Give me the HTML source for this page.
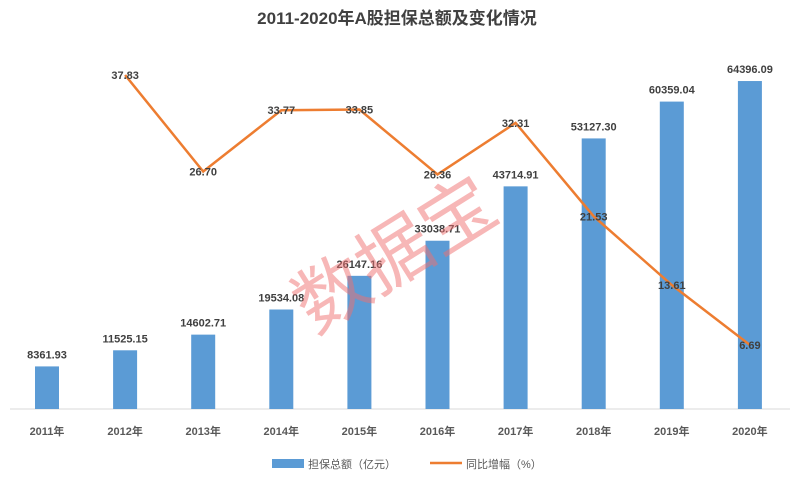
<!DOCTYPE html>
<html><head><meta charset="utf-8"><style>
body{margin:0;background:#fff;}
svg{display:block;font-family:"Liberation Sans","Noto Sans CJK SC",sans-serif;}
</style></head><body>
<svg id="chart" width="795" height="486">
<text x="397" y="24" text-anchor="middle" font-size="17" font-weight="bold" fill="#404040">2011-2020年A股担保总额及变化情况</text>
<line x1="10" y1="409" x2="790" y2="409" stroke="#d9d9d9"/>
<g id="bars"></g><g id="line"></g><g id="xlabels"></g>
<text x="395" y="280" font-size="74" fill="#f07070" fill-opacity="0.5" transform="rotate(-32 395 255)" text-anchor="middle">数据宝</text>
<g>
<rect x="272" y="459" width="32" height="9" fill="#5b9bd5"/>
<text x="308" y="468" font-size="11" fill="#595959">担保总额（亿元）</text>
<line x1="430" y1="463" x2="462" y2="463" stroke="#ed7d31" stroke-width="2.5"/>
<text x="466" y="468" font-size="11" fill="#595959">同比增幅（%）</text>
</g>
</svg>
<script>
const categories=["2011年","2012年","2013年","2014年","2015年","2016年","2017年","2018年","2019年","2020年"];
const totals=[8361.93,11525.15,14602.71,19534.08,26147.16,33038.71,43714.91,53127.30,60359.04,64396.09];
const growth=[null,37.83,26.70,33.77,33.85,26.36,32.31,21.53,13.61,6.69];
const ns="http://www.w3.org/2000/svg";
function x(i){return 47+i*78.1;}
function yBar(v){return 409-v*0.005093;}
function yLine(v){return 403-v*8.67;}
function mk(t,a,p,txt){const e=document.createElementNS(ns,t);for(const k in a)e.setAttribute(k,a[k]);if(txt!=null)e.textContent=txt;p.appendChild(e);return e;}
const gb=document.getElementById('bars'),gl=document.getElementById('line'),gx=document.getElementById('xlabels');
totals.forEach((v,i)=>{
 const r=mk('rect',{x:x(i)-12,y:yBar(v),width:24,height:409-yBar(v),fill:'#5b9bd5'},gb);
 
 
 const t=mk('text',{x:x(i),y:yBar(v)-8,'text-anchor':'middle','font-size':11,'font-weight':'bold',fill:'#404040'},gb,v.toFixed(2));
 
 
 const c=mk('text',{x:x(i),y:435,'text-anchor':'middle','font-size':11,'font-weight':'bold',fill:'#595959'},gx,categories[i]);
 
 
});
let d='';growth.forEach((v,i)=>{if(v==null)return;d+=(d?'L':'M')+x(i)+','+yLine(v);});
const p=mk('path',{d:d,fill:'none',stroke:'#ed7d31','stroke-width':2.5},gl);


growth.forEach((v,i)=>{if(v==null)return;
 const t=mk('text',{x:x(i),y:yLine(v)+4,'text-anchor':'middle','font-size':11,'font-weight':'bold',fill:'#404040'},gl,v.toFixed(2));
 
 
});
</script>
</body></html>
